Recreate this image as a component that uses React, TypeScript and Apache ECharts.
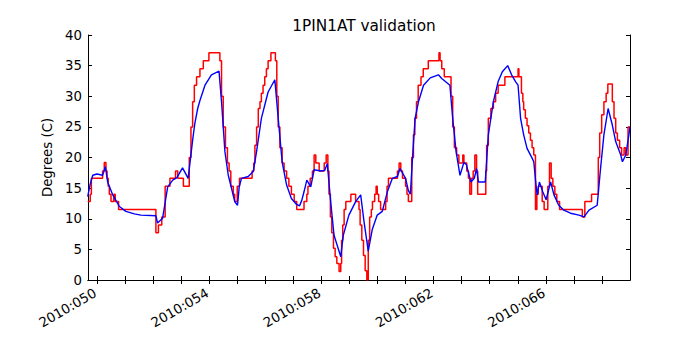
import React, { useEffect, useRef } from "react";
import * as echarts from "echarts";

const titleText = "1PIN1AT validation";
const yAxisName = "Degrees (C)";
const majorTickDays = [50, 54, 58, 62, 66];
const minorTickDays = [50, 51, 52, 53, 54, 55, 56, 57, 58, 59, 60, 61, 62, 63, 64, 65, 66, 67, 68];
const xMin = 49.68;
const xMax = 69.0;

// red: measured (quantized, stepped) — [day, value], value holds until next day
const measured: [number, number][] = [
  [49.67, 12.8], [49.76, 14.0], [49.8, 16.6], [50.2, 17.8], [50.26, 19.2], [50.32, 17.8], [50.36, 16.6],
  [50.4, 15.3], [50.44, 14.0], [50.5, 12.8], [50.6, 14.0], [50.65, 12.8], [50.77, 11.5], [52.1, 7.7],
  [52.19, 9.0], [52.31, 10.3], [52.43, 15.3], [52.6, 16.6], [52.8, 17.8], [52.88, 16.6], [53.08, 15.3],
  [53.29, 20.0], [53.35, 25.0], [53.41, 29.1], [53.47, 31.8], [53.55, 33.2], [53.67, 34.5], [53.79, 35.8],
  [53.99, 37.1], [54.38, 35.8], [54.44, 30.0], [54.5, 25.0], [54.58, 21.6], [54.65, 19.1], [54.71, 17.8],
  [54.77, 15.3], [54.86, 14.0], [54.91, 12.8], [55.0, 15.3], [55.08, 16.6], [55.53, 17.8], [55.59, 19.1],
  [55.63, 22.0], [55.69, 25.0], [55.75, 28.0], [55.81, 29.1], [55.86, 30.5], [55.92, 31.8], [55.98, 33.2],
  [56.04, 34.5], [56.1, 35.8], [56.2, 37.1], [56.36, 35.8], [56.41, 30.0], [56.46, 25.0], [56.52, 21.6],
  [56.6, 19.1], [56.67, 17.8], [56.76, 16.6], [56.84, 15.3], [56.93, 14.0], [57.03, 12.8], [57.12, 11.5],
  [57.38, 12.8], [57.48, 14.0], [57.52, 15.3], [57.6, 16.6], [57.68, 17.8], [57.74, 20.4], [57.8, 19.1],
  [57.92, 17.8], [58.1, 19.1], [58.17, 20.4], [58.23, 17.8], [58.27, 14.0], [58.32, 10.3], [58.37, 7.7],
  [58.43, 5.2], [58.49, 3.8], [58.55, 2.7], [58.63, 1.4], [58.69, 2.7], [58.72, 6.5], [58.76, 9.0],
  [58.81, 11.5], [58.87, 12.8], [59.05, 14.0], [59.22, 12.8], [59.34, 11.5], [59.38, 9.0], [59.44, 6.5],
  [59.5, 4.0], [59.56, 1.5], [59.62, 0], [59.67, 6.5], [59.72, 10.3], [59.78, 11.5], [59.82, 12.8],
  [59.9, 14.0], [59.95, 15.3], [59.99, 14.0], [60.04, 12.8], [60.11, 11.5], [60.29, 12.8], [60.34, 15.3],
  [60.39, 16.6], [60.71, 17.8], [60.77, 19.1], [60.83, 17.8], [60.89, 16.6], [61.0, 15.3], [61.05, 14.0],
  [61.1, 12.8], [61.22, 20.0], [61.28, 23.7], [61.33, 26.4], [61.39, 29.1], [61.45, 31.8], [61.55, 33.2],
  [61.63, 34.5], [61.81, 35.8], [62.19, 37.1], [62.23, 35.8], [62.29, 34.5], [62.38, 33.2], [62.62, 30.0],
  [62.68, 25.0], [62.74, 21.6], [62.82, 20.4], [62.9, 19.1], [63.04, 20.4], [63.08, 19.1], [63.18, 17.8],
  [63.24, 16.6], [63.29, 14.0], [63.35, 16.6], [63.41, 17.8], [63.47, 20.4], [63.53, 17.8], [63.57, 14.0],
  [63.86, 17.8], [63.89, 22.0], [63.95, 26.4], [64.04, 28.0], [64.13, 29.1], [64.21, 30.5], [64.3, 31.8],
  [64.54, 33.2], [65.01, 34.5], [65.04, 33.2], [65.13, 30.5], [65.18, 29.1], [65.21, 27.8], [65.27, 26.4],
  [65.33, 25.2], [65.39, 24.0], [65.45, 22.8], [65.51, 21.6], [65.57, 20.4], [65.63, 11.5], [65.68, 14.0],
  [65.73, 15.3], [65.87, 12.8], [65.94, 11.5], [66.07, 15.3], [66.13, 19.1], [66.19, 16.6], [66.25, 15.3],
  [66.32, 14.0], [66.39, 12.8], [66.49, 11.5], [67.3, 10.3], [67.39, 12.8], [67.63, 14.0], [67.87, 20.0],
  [67.92, 24.0], [67.99, 27.0], [68.07, 29.1], [68.15, 30.5], [68.21, 32.0], [68.37, 29.1], [68.43, 26.4],
  [68.49, 24.0], [68.55, 22.8], [68.63, 21.6], [68.7, 20.4], [68.79, 21.6], [68.85, 20.4], [68.93, 25.0],
  [69.0, 25.0],
];

// blue: model
const model: [number, number][] = [
  [49.67, 13.6], [49.75, 15.5], [49.85, 17.1], [50.0, 17.3], [50.2, 17.1], [50.3, 18.5], [50.38, 16.0],
  [50.56, 13.9], [50.8, 12.0], [51.03, 11.2], [51.33, 10.8], [51.57, 10.6], [52.1, 10.5], [52.16, 9.3],
  [52.34, 10.1], [52.52, 15.2], [52.7, 16.3], [52.85, 16.7], [53.05, 18.3], [53.25, 16.6], [53.35, 20.5],
  [53.42, 23.2], [53.49, 25.6], [53.59, 28.0], [53.67, 29.3], [53.85, 31.8], [54.08, 33.5], [54.35, 34.1],
  [54.44, 29.1], [54.56, 21.0], [54.68, 17.1], [54.8, 14.9], [54.91, 12.8], [55.01, 12.2], [55.07, 15.2],
  [55.15, 16.6], [55.39, 16.9], [55.57, 17.7], [55.69, 21.0], [55.86, 26.4], [56.1, 30.7], [56.34, 32.7],
  [56.46, 26.4], [56.6, 19.3], [56.76, 15.5], [56.93, 13.3], [57.1, 12.4], [57.22, 12.1], [57.3, 13.0],
  [57.38, 14.4], [57.48, 16.3], [57.62, 15.2], [57.74, 18.0], [57.98, 17.8], [58.12, 17.9], [58.21, 19.0],
  [58.33, 12.8], [58.45, 7.3], [58.69, 3.8], [58.78, 7.3], [58.98, 10.6], [59.22, 12.8], [59.4, 13.9],
  [59.52, 9.5], [59.67, 4.7], [59.81, 8.2], [59.99, 10.6], [60.17, 11.2], [60.35, 14.4], [60.53, 16.6],
  [60.71, 16.9], [60.8, 18.2], [61.0, 16.6], [61.1, 14.6], [61.17, 14.0], [61.26, 20.8], [61.34, 26.4],
  [61.46, 29.1], [61.64, 31.8], [61.88, 33.0], [62.17, 33.5], [62.29, 32.9], [62.58, 31.8], [62.68, 26.4],
  [62.8, 21.0], [62.94, 17.1], [63.08, 19.2], [63.17, 18.8], [63.33, 16.0], [63.45, 16.6], [63.53, 18.2],
  [63.6, 16.0], [63.84, 16.0], [63.95, 23.7], [64.13, 29.1], [64.3, 32.4], [64.45, 34.0], [64.64, 35.0],
  [64.78, 33.5], [64.92, 32.4], [65.01, 31.8], [65.1, 26.4], [65.21, 23.7], [65.33, 21.5], [65.51, 19.9],
  [65.57, 19.3], [65.65, 15.5], [65.69, 13.9], [65.77, 16.0], [65.89, 14.4], [66.01, 13.1], [66.17, 16.0],
  [66.29, 13.9], [66.46, 12.2], [66.64, 11.4], [66.88, 10.9], [67.18, 10.6], [67.36, 10.3], [67.54, 11.4],
  [67.83, 12.2], [67.95, 18.2], [68.07, 23.7], [68.22, 28.0], [68.37, 25.3], [68.49, 22.6], [68.67, 20.4],
  [68.73, 19.3], [68.85, 20.4], [68.96, 23.7], [69.0, 25.0],
];

const FONT = "DejaVu Sans";

export default function App() {
  const ref = useRef<HTMLDivElement>(null);
  useEffect(() => {
    if (!ref.current) return;
    const chart = echarts.init(ref.current, null, { renderer: "svg" });
    const axisLine = { show: true, lineStyle: { color: "#000", width: 1 } };
    const tickStyle = { show: true, inside: true, length: 4, lineStyle: { color: "#000", width: 1 } };
    chart.setOption({
      animation: false,
      backgroundColor: "#fff",
      title: {
        text: titleText,
        left: 359,
        top: 13,
        textAlign: "center",
        textStyle: { fontFamily: FONT, fontSize: 15.3, fontWeight: "normal", color: "#000" },
      },
      grid: { left: 88, right: 70, top: 35, bottom: 70, containLabel: false },
      xAxis: [
        {
          type: "value",
          position: "bottom",
          min: xMin,
          max: xMax,
          axisLine,
          axisTick: { ...tickStyle, customValues: minorTickDays },
          splitLine: { show: false },
          axisLabel: {
            customValues: majorTickDays,
            rotate: 30,
            margin: 11,
            padding: [0, 2, 0, 0],
            fontFamily: FONT,
            fontSize: 13.3,
            color: "#000",
            formatter: (v: number) => "2010:0" + Math.round(v),
          },
        },
        {
          type: "value",
          position: "top",
          min: xMin,
          max: xMax,
          axisLine,
          axisTick: { ...tickStyle, customValues: minorTickDays },
          splitLine: { show: false },
          axisLabel: { show: false },
        },
      ],
      yAxis: [
        {
          type: "value",
          position: "left",
          min: 0,
          max: 40,
          interval: 5,
          axisLine,
          axisTick: tickStyle,
          splitLine: { show: false },
          axisLabel: { margin: 6, fontFamily: FONT, fontSize: 13.3, color: "#000" },
          name: yAxisName,
          nameLocation: "middle",
          nameGap: 30,
          nameTextStyle: { fontFamily: FONT, fontSize: 13.3, color: "#000" },
        },
        {
          type: "value",
          position: "right",
          min: 0,
          max: 40,
          interval: 5,
          axisLine,
          axisTick: tickStyle,
          splitLine: { show: false },
          axisLabel: { show: false },
        },
      ],
      series: [
        {
          type: "line",
          name: "measured",
          data: measured,
          step: "end",
          showSymbol: false,
          symbol: "none",
          lineStyle: { color: "#ff0000", width: 1.5 },
          z: 2,
        },
        {
          type: "line",
          name: "model",
          data: model,
          showSymbol: false,
          symbol: "none",
          lineStyle: { color: "#0000ff", width: 1.4 },
          z: 3,
        },
      ],
    });
    return () => chart.dispose();
  }, []);
  return <div ref={ref} style={{ width: 700, height: 350, position: "absolute", left: 0, top: 0 }} />;
}
